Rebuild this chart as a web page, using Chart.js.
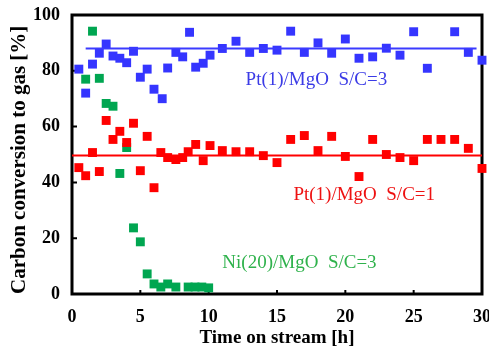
<!DOCTYPE html>
<html>
<head>
<meta charset="utf-8">
<script src="https://cdn.jsdelivr.net/npm/chart.js@4/dist/chart.umd.min.js"></script>
<style>
html, body { margin: 0; padding: 0; background: #fff; }
#wrap { width: 489px; height: 349px; }
</style>
</head>
<body>
<div id="wrap"><canvas id="myChart"></canvas></div>
<script>
// Pt(1)/MgO S/C=3 .....................
var blueTime = [0.5, 1, 1.5, 2, 2.5, 3, 3.5, 4, 4.5, 5, 5.5, 6, 6.6, 7, 7.6, 8.1, 8.6, 9.05, 9.6, 10.1, 11, 12, 13, 14, 15, 16, 17, 18, 19, 20, 21, 22, 23, 24, 25, 26, 28, 29, 30];
var blueConv = [80.6, 72, 82.4, 86.3, 89.6, 85.3, 84.5, 82.9, 87, 77.7, 80.6, 73.4, 70, 81, 86.6, 85, 93.8, 81.3, 82.7, 85.6, 88, 90.6, 86.6, 88, 87.4, 94.2, 86.6, 90, 86.3, 91.4, 84.5, 85, 88.1, 85.6, 94, 80.9, 94, 86.6, 83.8];
var blueLineTime = [1, 29.6];
var blueLineConv = [88, 88];

// Pt(1)/MgO S/C=1 .....................
var redTime = [0.5, 1, 1.5, 2, 2.5, 3, 3.5, 4, 4.5, 5, 5.5, 6, 6.5, 7, 7.6, 8.1, 8.5, 9.05, 9.6, 10.1, 11, 12, 13, 14, 15, 16, 17, 18, 19, 20, 21, 22, 23, 24, 25, 26, 27, 28, 29, 30];
var redConv = [45.3, 42.4, 50.7, 43.9, 62.2, 55.4, 58.3, 54.3, 61.2, 44.2, 56.5, 38.1, 50.7, 48.9, 48.2, 48.9, 51, 53.6, 47.8, 53.2, 51.4, 51, 51, 49.6, 47.1, 55.4, 56.8, 51.4, 56.5, 49.3, 42.1, 55.4, 50, 48.9, 47.8, 55.4, 55.4, 55.4, 52.2, 45];
var redLineTime = [0, 30];
var redLineConv = [49.6, 49.6];

// Ni(20)/MgO S/C=3 .....................
var greenTime = [1, 1.5, 2, 2.5, 3, 3.5, 4, 4.5, 5, 5.5, 6, 6.5, 7, 7.6, 8.5, 9, 9.5, 10];
var greenConv = [77, 94.2, 77.3, 68.3, 67.3, 43.2, 52.5, 23.7, 18.7, 7.2, 3.6, 2.5, 3.6, 2.5, 2.5, 2.5, 2.5, 2.2];

var xTicks = [0, 5, 10, 15, 20, 25, 30];
var yTicks = [0, 20, 40, 60, 80, 100];

// series labels: [text, time, conversion, colour]
var seriesLabels = [
  ["Pt(1)/MgO  S/C=3", 12.7, 76.6, "#3b3be6"],
  ["Pt(1)/MgO  S/C=1", 16.2, 35.3, "#ee1111"],
  ["Ni(20)/MgO  S/C=3", 11.0, 11.2, "#2fb24c"]
];

function toPoints(xs, ys) {
  return xs.map(function (x, i) { return { x: x, y: ys[i] }; });
}

var serif = "'Liberation Serif', 'Times New Roman', serif";

var framePlugin = {
  id: "frame",
  beforeDatasetsDraw: function (chart) {
    var ctx = chart.ctx, a = chart.chartArea;
    var xs = chart.scales.x, ys = chart.scales.y;
    ctx.save();
    ctx.strokeStyle = "#000";
    ctx.lineWidth = 3;
    ctx.strokeRect(a.left, a.top, a.right - a.left, a.bottom - a.top);
    ctx.lineWidth = 2;
    ctx.beginPath();
    xTicks.slice(1, -1).forEach(function (t) {
      var px = xs.getPixelForValue(t);
      ctx.moveTo(px, a.bottom);
      ctx.lineTo(px, a.bottom - 4);
    });
    yTicks.slice(1, -1).forEach(function (t) {
      var py = ys.getPixelForValue(t);
      ctx.moveTo(a.left, py);
      ctx.lineTo(a.left + 5, py);
    });
    ctx.stroke();
    ctx.restore();
  },
  afterDatasetsDraw: function (chart) {
    var ctx = chart.ctx;
    var xs = chart.scales.x, ys = chart.scales.y;
    ctx.save();
    ctx.font = "19px " + serif;
    ctx.textBaseline = "middle";
    ctx.textAlign = "left";
    seriesLabels.forEach(function (l) {
      ctx.fillStyle = l[3];
      ctx.fillText(l[0], xs.getPixelForValue(l[1]), ys.getPixelForValue(l[2]));
    });
    ctx.restore();
  }
};

new Chart("myChart", {
  type: "scatter",
  data: {
    datasets: [{
      data: toPoints(blueLineTime, blueLineConv),
      showLine: true,
      borderColor: "#3b3bff",
      borderWidth: 2,
      pointRadius: 0,
      clip: false
    }, {
      data: toPoints(redLineTime, redLineConv),
      showLine: true,
      borderColor: "#ff0000",
      borderWidth: 2,
      pointRadius: 0,
      clip: false
    }, {
      data: toPoints(blueTime, blueConv),
      pointStyle: "rect",
      pointRadius: 6.3,
      backgroundColor: "#3535ff",
      borderWidth: 0,
      clip: false
    }, {
      data: toPoints(redTime, redConv),
      pointStyle: "rect",
      pointRadius: 6.3,
      backgroundColor: "#ff0000",
      borderWidth: 0,
      clip: false
    }, {
      data: toPoints(greenTime, greenConv),
      pointStyle: "rect",
      pointRadius: 6.3,
      backgroundColor: "#00a651",
      borderWidth: 0,
      clip: false
    }]
  },
  options: {
    responsive: true,
    maintainAspectRatio: false,
    animation: false,
    layout: { padding: { left: 0, top: 15, right: 7, bottom: 0 } },
    plugins: {
      legend: { display: false },
      tooltip: { enabled: false }
    },
    scales: {
      x: {
        type: "linear",
        min: 0,
        max: 30,
        afterBuildTicks: function (scale) {
          scale.ticks = xTicks.map(function (v) { return { value: v }; });
        },
        afterFit: function (scale) {
          scale.height = 55;
          scale.paddingLeft = 0;
          scale.paddingRight = 0;
        },
        grid: { display: false, drawTicks: false },
        border: { display: false },
        ticks: {
          padding: 13,
          color: "#000",
          maxRotation: 0,
          font: { family: serif, size: 18, weight: "bold" }
        },
        title: {
          display: true,
          text: "Time on stream [h]",
          color: "#000",
          padding: { top: 0, bottom: 0 },
          font: { family: serif, size: 19, weight: "bold" }
        }
      },
      y: {
        type: "linear",
        min: 0,
        max: 100,
        afterBuildTicks: function (scale) {
          scale.ticks = yTicks.map(function (v) { return { value: v }; });
        },
        afterFit: function (scale) {
          scale.width = 72;
          scale.paddingTop = 0;
          scale.paddingBottom = 0;
        },
        grid: { display: false, drawTicks: false },
        border: { display: false },
        ticks: {
          padding: 12,
          color: "#000",
          font: { family: serif, size: 18, weight: "bold" }
        },
        title: {
          display: true,
          align: "start",
          text: "Carbon conversion to gas [%]",
          color: "#000",
          padding: { top: 7, bottom: 0 },
          font: { family: serif, size: 21, weight: "bold" }
        }
      }
    }
  },
  plugins: [framePlugin]
});
</script>
</body>
</html>
